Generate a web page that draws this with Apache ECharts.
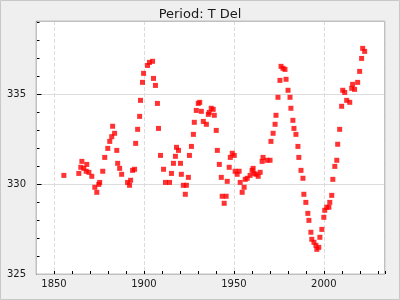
<!DOCTYPE html>
<html><head><meta charset="utf-8">
<script src="https://cdn.jsdelivr.net/npm/echarts@6/dist/echarts.min.js"></script>
<style>html,body{margin:0;padding:0;background:#efefef}#c{width:400px;height:300px}</style>
</head><body><div id="c"></div>
<script>
const chartTitle = 'Period: T Del';
const years = [1855.5,1863.8,1864.9,1865.5,1866.6,1867.9,1868.2,1869.4,1871.0,1872.7,1873.8,1874.9,1875.4,1877.1,1878.2,1879.9,1881.0,1882.1,1882.6,1883.7,1884.9,1885.4,1886.5,1887.6,1890.9,1892.0,1892.6,1893.7,1894.8,1895.4,1896.5,1897.6,1898.1,1899.2,1899.8,1902.0,1903.1,1904.8,1905.3,1906.4,1907.5,1908.1,1909.2,1910.9,1912.0,1914.2,1915.3,1916.4,1917.5,1918.1,1919.2,1920.3,1920.8,1921.9,1923.0,1923.6,1924.7,1925.3,1926.4,1927.5,1928.0,1929.1,1930.2,1931.0,1931.9,1933.0,1934.7,1935.8,1936.3,1937.4,1938.5,1939.1,1940.2,1940.8,1941.9,1943.0,1943.5,1944.6,1945.7,1946.3,1947.4,1948.0,1949.1,1950.2,1950.7,1951.8,1952.9,1953.5,1954.6,1955.7,1956.3,1957.4,1959.0,1960.1,1960.7,1961.2,1962.3,1963.5,1964.6,1965.7,1966.2,1968.4,1970.1,1970.6,1971.8,1972.9,1973.4,1974.5,1975.6,1976.2,1977.3,1978.4,1979.0,1980.1,1981.2,1981.7,1982.8,1983.4,1984.5,1985.6,1986.1,1987.3,1988.4,1988.9,1990.0,1991.1,1991.7,1992.8,1993.3,1994.5,1995.6,1996.1,1997.2,1997.8,1998.9,2000.0,2000.5,2001.6,2002.8,2003.3,2004.4,2005.0,2006.1,2007.2,2007.7,2008.8,2009.9,2010.5,2011.6,2012.7,2014.4,2015.5,2016.0,2017.1,2018.8,2019.9,2021.0,2021.6,2022.7];
const values = [330.48,330.59,330.93,331.26,330.87,330.71,331.09,330.65,330.43,329.82,329.54,329.98,330.09,330.71,331.48,331.98,332.37,332.63,333.21,332.82,331.87,331.15,330.87,330.54,330.09,329.93,330.21,330.76,330.82,332.26,333.04,333.76,334.65,335.65,336.15,336.59,336.76,336.82,335.87,335.48,334.48,333.09,331.59,330.82,330.09,330.09,330.59,331.15,331.54,332.04,331.87,331.15,330.54,329.93,329.43,329.93,330.37,331.59,332.09,332.76,333.43,334.09,334.48,334.54,334.04,333.48,333.32,333.87,333.98,334.21,334.15,333.82,332.98,331.87,331.09,330.37,329.32,328.93,329.32,330.15,330.93,331.48,331.71,331.59,330.71,330.54,330.71,330.09,329.54,329.82,330.26,330.32,330.48,330.76,330.87,330.59,330.54,330.43,330.65,331.26,331.48,331.32,331.32,332.37,332.82,333.32,333.82,334.82,335.76,336.54,336.43,336.37,335.82,335.21,334.82,334.21,333.54,333.09,332.76,332.09,331.48,330.76,330.32,329.43,328.98,328.37,327.98,327.32,326.93,326.76,326.59,326.37,326.48,327.04,327.48,328.15,328.54,328.71,328.71,328.98,329.37,330.26,330.98,331.32,332.21,333.04,334.32,335.21,335.09,334.65,334.54,335.32,335.54,335.26,335.65,336.26,336.98,337.54,337.37];
const xTickLabels = [1850, 1900, 1950, 2000];
const yTickLabels = [325, 330, 335];

const xMin = 1840, xMax = 2034, yMin = 325, yMax = 339.06;
const points = years.map((y, i) => [y, values[i]]);
const txt = {fontFamily: 'DejaVu Sans', fontSize: 10, color: '#1a1a1a'};

const chart = echarts.init(document.getElementById('c'), null, {renderer: 'canvas', width: 400, height: 300});
chart.setOption({
  animation: false,
  backgroundColor: '#efefef',
  title: {text: chartTitle, left: 'center', top: 3,
    textStyle: {fontFamily: 'DejaVu Sans', fontSize: 13, fontWeight: 'normal', color: '#1a1a1a'}},
  grid: {left: 36, right: 15, top: 21, bottom: 26, show: true, backgroundColor: '#ffffff', borderColor: '#c0c0c0', borderWidth: 1},
  xAxis: [
    {type: 'value', min: xMin, max: xMax, interval: 10, position: 'bottom',
      axisLine: {show: false}, axisTick: {inside: true, length: 3, lineStyle: {color: '#000'}},
      axisLabel: {show: false}, splitLine: {show: false}},
    {type: 'value', min: xMin, max: xMax, splitNumber: 4, position: 'bottom',
      axisLine: {show: false}, axisTick: {show: false},
      axisLabel: Object.assign({margin: 5, formatter: v => xTickLabels.includes(v) ? String(v) : ''}, txt),
      splitLine: {show: true, lineStyle: {color: '#dcdcdc', width: 1, type: [4, 2]}}}
  ],
  yAxis: [
    {type: 'value', min: yMin, max: yMax, interval: 1, position: 'left',
      axisLine: {show: false}, axisTick: {inside: true, length: 3.5, lineStyle: {color: '#000'}},
      axisLabel: {show: false}, splitLine: {show: false}},
    {type: 'value', min: yMin, max: yMax, interval: 5, position: 'left',
      axisLine: {show: false}, axisTick: {inside: true, length: 5.5, lineStyle: {color: '#000'}},
      axisLabel: Object.assign({margin: 10, formatter: v => yTickLabels.includes(v) ? String(v) : ''}, txt),
      splitLine: {show: true, lineStyle: {color: '#dcdcdc', width: 1}}}
  ],
  graphic: [
    {type: 'rect', z: 100, silent: true, shape: {x: 36.5, y: 21.5, width: 348, height: 253},
      style: {fill: 'none', stroke: '#c0c0c0', lineWidth: 1}},
    {type: 'rect', z: 100, silent: true, shape: {x: 0.5, y: 0.5, width: 399, height: 299},
      style: {fill: 'none', stroke: '#c8c8c8', lineWidth: 1}}
  ],
  series: [{
    type: 'scatter', xAxisIndex: 0, yAxisIndex: 0, data: points,
    symbol: 'rect', symbolSize: 5, itemStyle: {color: '#ff0000'}, z: 10
  }]
});
</script></body></html>
